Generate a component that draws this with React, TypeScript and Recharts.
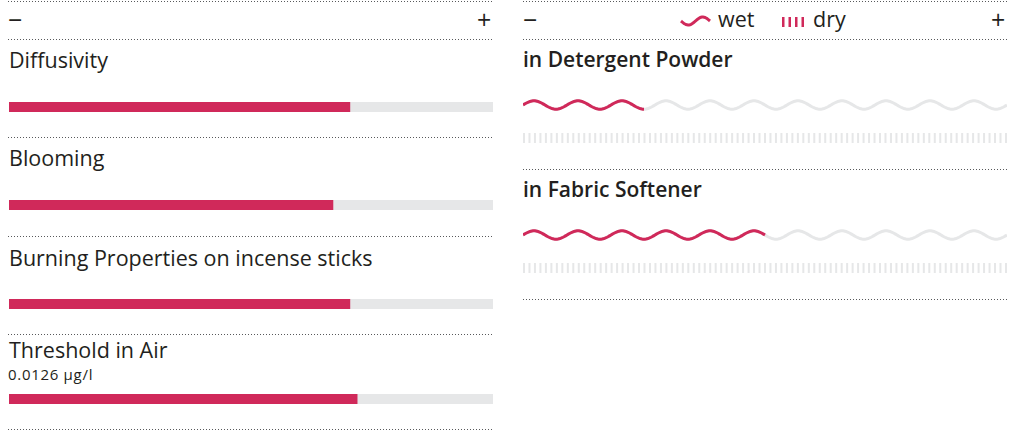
import { Bar, BarChart, XAxis, YAxis } from "recharts";

// left panel: fragrance properties
const propertyNames = [
  "Diffusivity",
  "Blooming",
  "Burning Properties on incense sticks",
  "Threshold in Air",
];
const propertyValues = [70.5, 67, 70.5, 72];
const propertyNotes = ["", "", "", "0.0126 µg/l"];

// right panel: substantivity wet / dry
const usageNames = ["in Detergent Powder", "in Fabric Softener"];
const wetValues = [25, 50];
const dryValues = [0, 0];

const scaleLabels = ["−", "+"];
const legendLabels = ["wet", "dry"];

const RED = "#d0295a";
const GREY = "#e6e7e8";
const INK = "#231f20";
const DOT = "#58595b";
const FONT = "'Open Sans', sans-serif";

// layout
const LEFT_X = 8;
const LEFT_W = 485;
const RIGHT_X = 523;
const RIGHT_W = 484;
const leftRowTops = [39, 137, 236, 334, 429];
const leftBarOffsets = [62, 62, 62, 59];
const leftTitleBase = [29, 29.5, 30.5, 24];
const rightRowTops = [39, 169, 299];

const LABEL_SIZE = 21.5;
const WAVE_PERIOD = 44;
const WAVE_AMP = 4.2;
const TICK_STEP = 5.477;

function Dots({ x, y, w }: { x: number; y: number; w: number }) {
  return (
    <div
      style={{
        position: "absolute",
        left: x,
        top: y,
        width: w,
        height: 1,
        backgroundImage: `linear-gradient(to right, ${DOT} 1px, transparent 1px)`,
        backgroundSize: "3px 1px",
      }}
    />
  );
}

// place text by its baseline (Open Sans, line-height = font size)
function Text({
  x,
  base,
  size,
  weight = 400,
  spacing = 0,
  children,
}: {
  x: number;
  base: number;
  size: number;
  weight?: number;
  spacing?: number;
  children: React.ReactNode;
}) {
  return (
    <div
      style={{
        position: "absolute",
        left: x,
        top: base - 0.888 * size,
        fontSize: size,
        lineHeight: `${size}px`,
        fontWeight: weight,
        letterSpacing: spacing,
        color: INK,
        whiteSpace: "nowrap",
      }}
    >
      {children}
    </div>
  );
}

function Wave(props: any) {
  const { x, y, width, height, color } = props;
  if (!width || width <= 0) return null;
  const cy = y + height / 2;
  let d = "";
  for (let t = 0; t <= width; t += 1) {
    const py = cy - WAVE_AMP * Math.sin((2 * Math.PI * t) / WAVE_PERIOD);
    d += `${t === 0 ? "M" : "L"}${(x + t).toFixed(2)},${py.toFixed(2)}`;
  }
  const end = cy - WAVE_AMP * Math.sin((2 * Math.PI * width) / WAVE_PERIOD);
  d += `L${(x + width).toFixed(2)},${end.toFixed(2)}`;
  return <path d={d} fill="none" stroke={color} strokeWidth={3} />;
}

function Ticks(props: any) {
  const { x, y, width, height, color } = props;
  if (!width || width <= 0) return null;
  const n = Math.floor((width - 2) / TICK_STEP + 0.001);
  const rects = [];
  for (let i = 0; i <= n; i++) {
    rects.push(
      <rect key={i} x={x + i * TICK_STEP} y={y} width={2} height={height} fill={color} />
    );
  }
  return <g>{rects}</g>;
}

function Header({ x, w }: { x: number; w: number }) {
  return (
    <>
      <Dots x={x} y={1} w={w} />
      <Text x={x} base={29} size={25}>
        {scaleLabels[0]}
      </Text>
      <Text x={x + w - 16} base={29} size={25}>
        {scaleLabels[1]}
      </Text>
      <Dots x={x} y={39} w={w} />
    </>
  );
}

export default function App() {
  return (
    <div
      style={{
        position: "absolute",
        left: 0,
        top: 0,
        width: 1010,
        height: 433,
        background: "#fff",
        fontFamily: FONT,
        overflow: "hidden",
      }}
    >
      <Header x={LEFT_X} w={LEFT_W} />
      <Header x={RIGHT_X} w={RIGHT_W} />

      {/* legend */}
      <svg style={{ position: "absolute", left: 679, top: 13 }} width={34} height={16}>
        <path
          d={Array.from({ length: 30 }, (_, t) =>
            `${t === 0 ? "M" : "L"}${2 + t},${(8 + 4 * Math.sin((2 * Math.PI * t) / 29)).toFixed(2)}`
          ).join("")}
          fill="none"
          stroke={RED}
          strokeWidth={3}
        />
      </svg>
      <Text x={718} base={27} size={LABEL_SIZE}>
        {legendLabels[0]}
      </Text>
      <svg style={{ position: "absolute", left: 782, top: 17 }} width={24} height={11}>
        {[0, 1, 2, 3].map((i) => (
          <rect key={i} x={i * 6.5} y={0} width={2.5} height={10} fill={RED} />
        ))}
      </svg>
      <Text x={813} base={27} size={LABEL_SIZE}>
        {legendLabels[1]}
      </Text>

      {/* left rows */}
      {propertyNames.map((name, i) => {
        const top = leftRowTops[i];
        return (
          <div key={name}>
            <Text x={LEFT_X + 1} base={top + leftTitleBase[i]} size={LABEL_SIZE}>
              {name}
            </Text>
            {propertyNotes[i] && (
              <Text x={LEFT_X} base={top + 46.5} size={15} spacing={0.7}>
                {propertyNotes[i]}
              </Text>
            )}
            <div style={{ position: "absolute", left: LEFT_X + 1, top: top + leftBarOffsets[i] }}>
              <BarChart
                width={LEFT_W - 1}
                height={11}
                data={[{ name, value: propertyValues[i] }]}
                layout="vertical"
                margin={{ top: 0, right: 0, bottom: 0, left: 0 }}
                barCategoryGap={0}
              >
                <XAxis type="number" domain={[0, 100]} hide />
                <YAxis type="category" dataKey="name" hide />
                <Bar
                  dataKey="value"
                  fill={RED}
                  barSize={11}
                  background={{ fill: GREY }}
                  isAnimationActive={false}
                />
              </BarChart>
            </div>
            <Dots x={LEFT_X} y={leftRowTops[i + 1]} w={LEFT_W} />
          </div>
        );
      })}

      {/* right rows */}
      {usageNames.map((name, i) => {
        const top = rightRowTops[i];
        return (
          <div key={name}>
            <Text x={RIGHT_X} base={top + 29} size={21} weight={600}>
              {name}
            </Text>
            <div style={{ position: "absolute", left: RIGHT_X, top: top + 56 }}>
              <BarChart
                width={RIGHT_W}
                height={52}
                data={[{ name, wet: wetValues[i], dry: dryValues[i] }]}
                layout="vertical"
                margin={{ top: 0, right: 0, bottom: 0, left: 0 }}
                barCategoryGap={0}
                barGap={22}
              >
                <XAxis type="number" domain={[0, 100]} hide />
                <YAxis type="category" dataKey="name" hide />
                <Bar
                  dataKey="wet"
                  barSize={12}
                  shape={(p: any) => <Wave {...p} color={RED} />}
                  background={(p: any) => <Wave {...p} color={GREY} />}
                  isAnimationActive={false}
                />
                <Bar
                  dataKey="dry"
                  barSize={10}
                  shape={(p: any) => <Ticks {...p} color={RED} />}
                  background={(p: any) => <Ticks {...p} color={GREY} />}
                  isAnimationActive={false}
                />
              </BarChart>
            </div>
            <Dots x={RIGHT_X} y={rightRowTops[i + 1]} w={RIGHT_W} />
          </div>
        );
      })}
    </div>
  );
}
